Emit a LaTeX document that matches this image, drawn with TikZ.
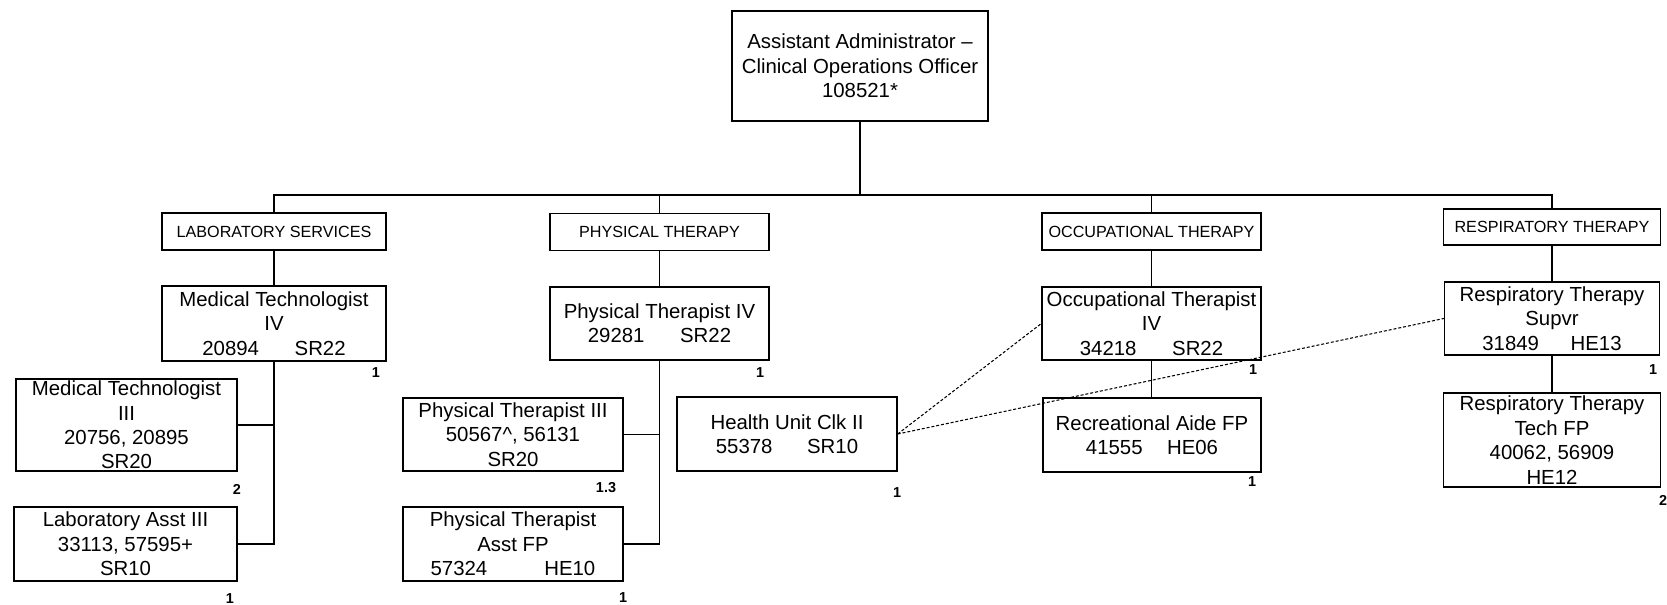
\documentclass[tikz,border=0pt]{standalone}
\usepackage{fontspec}
\setmainfont{Liberation Sans}
\newcommand{\postfont}{\fontsize{11.6pt}{13.9pt}\selectfont}
\newcommand{\deptfont}{\fontsize{9.2pt}{11pt}\selectfont}
\newcommand{\ftefont}{\fontsize{8.2pt}{9pt}\selectfont\bfseries}

\begin{document}
\begin{tikzpicture}[x=0.02cm, y=-0.02cm, line width=0.8pt,
  post/.style={draw, align=center, inner sep=0pt, minimum width=4.4cm, minimum height=1.48cm, font=\postfont},
  dept/.style={draw, align=center, inner sep=0pt, minimum width=4.4cm, minimum height=0.74cm, font=\deptfont},
  fte/.style={font=\ftefont, inner sep=0pt},
  liaison/.style={line width=0.6pt, dash pattern=on 1.7pt off 1.1pt}]

\useasboundingbox (0,0) rectangle (1667,605);

% ---------------- Head of the division ----------------
\node[post, minimum width=5.12cm, minimum height=2.2cm] (admin) at (860,66)
  {Assistant Administrator –\\Clinical Operations Officer\\108521*};

% ---------------- Departments ----------------
\node[dept, minimum width=4.48cm] (lab) at (274,231.5) {LABORATORY SERVICES};
\node[dept, minimum width=4.38cm] (phys) at (659.5,232) {PHYSICAL THERAPY};
\node[dept, minimum width=4.38cm] (occ) at (1151.5,231.5) {OCCUPATIONAL THERAPY};
\node[dept, minimum width=4.34cm, minimum height=0.72cm] (resp) at (1552,227) {RESPIRATORY THERAPY};

% ---------------- Laboratory services ----------------
\node[post, minimum width=4.48cm, minimum height=1.5cm] (mt4) at (274,323.5)
  {Medical Technologist\\IV\\20894\hspace{1.75em}SR22};
\node[post, minimum width=4.42cm, minimum height=1.84cm] (mt3) at (126.5,425)
  {Medical Technologist\\III\\20756, 20895\\SR20};
\node[post, minimum width=4.46cm] (labasst) at (125.5,544)
  {Laboratory Asst III\\33113, 57595+\\SR10};

% ---------------- Physical therapy ----------------
\node[post, minimum width=4.38cm, minimum height=1.46cm] (pt4) at (659.5,323.5)
  {Physical Therapist IV\\29281\hspace{1.75em}SR22};
\node[post, minimum height=1.46cm] (pt3) at (513,434.5)
  {Physical Therapist III\\50567\textasciicircum, 56131\\SR20};
\node[post] (ptasst) at (513,544)
  {Physical Therapist\\Asst FP\\57324\hspace{2.8em}HE10};
\node[post] (huc) at (787,434)
  {Health Unit Clk II\\55378\hspace{1.7em}SR10};

% ---------------- Occupational therapy ----------------
\node[post, minimum width=4.38cm, minimum height=1.46cm] (ot4) at (1151.5,323.5)
  {Occupational Therapist\\IV\\34218\hspace{1.75em}SR22};
\node[post, minimum width=4.36cm] (rec) at (1152,435)
  {Recreational Aide FP\\41555\hspace{1.2em}HE06};

% ---------------- Respiratory therapy ----------------
\node[post, minimum width=4.3cm, minimum height=1.46cm] (rtsup) at (1552,318.5)
  {Respiratory Therapy\\Supvr\\31849\hspace{1.55em}HE13};
\node[post, minimum width=4.34cm, minimum height=1.88cm] (rttech) at (1552,440)
  {Respiratory Therapy\\Tech FP\\40062, 56909\\HE12};

% FTE counts
\node[fte] (mt4n) at (376,373) {1};
\node[fte] (mt3n) at (237,489) {2};
\node[fte] (labasstn) at (230,599) {1};
\node[fte] (pt4n) at (760,373) {1};
\node[fte] (pt3n) at (606,488) {1.3};
\node[fte] (ptasstn) at (623,598) {1};
\node[fte] (hucn) at (897,493) {1};
\node[fte] (ot4n) at (1253,370) {1};
\node[fte] (recn) at (1252,482) {1};
\node[fte] (rtsupn) at (1653,370) {1};
\node[fte] (rttechn) at (1663,500) {2};

% Reporting lines
\coordinate (bus) at (0,195);
\draw (admin.south) -- (admin.south |- bus);
\draw (lab.north) |- (bus -| resp.north) -- (resp.north);
\draw (phys.north) -- (phys.north |- bus);
\draw (occ.north) -- (occ.north |- bus);

\draw (lab.south) -- (mt4.north);
\draw (phys.south) -- (pt4.north);
\draw (occ.south) -- (ot4.north);
\draw (resp.south) -- (rtsup.north);

\draw (mt4.south) |- (labasst.east);
\draw (mt3.east) -- (mt3.east -| mt4.south);
\draw (pt4.south) |- (ptasst.east);
\draw (pt3.east) -- (pt3.east -| pt4.south);
\draw (ot4.south) -- (ot4.south |- rec.north);
\draw (rtsup.south) -- (rtsup.south |- rttech.north);

% Dotted lines from the clerk
\draw[liaison] (huc.east) -- (ot4.west);
\draw[liaison] (huc.east) -- (rtsup.west);

\end{tikzpicture}
\end{document}
